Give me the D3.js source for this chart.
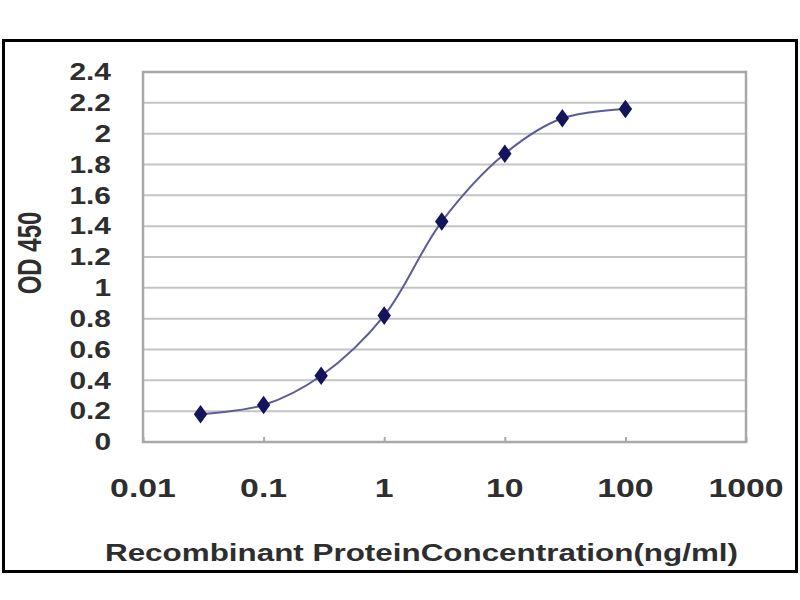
<!DOCTYPE html>
<html><head><meta charset="utf-8">
<script src="https://cdn.jsdelivr.net/npm/d3@7"></script>
<style>body{margin:0;background:#fff}svg{display:block}</style>
</head><body>
<script>
const concentrations = [0.03, 0.1, 0.3, 1, 3, 10, 30, 100];
const odValues = [0.18, 0.24, 0.43, 0.82, 1.43, 1.87, 2.1, 2.16];
const xTicks = [0.01, 0.1, 1, 10, 100, 1000];
const xTickLabels = ["0.01", "0.1", "1", "10", "100", "1000"];
const yTicks = [0, 0.2, 0.4, 0.6, 0.8, 1, 1.2, 1.4, 1.6, 1.8, 2, 2.2, 2.4];
const yTickLabels = ["0", "0.2", "0.4", "0.6", "0.8", "1", "1.2", "1.4", "1.6", "1.8", "2", "2.2", "2.4"];
const xTitle = "Recombinant ProteinConcentration(ng/ml)";
const yTitle = "OD 450";

const W = 800, H = 600;
const svg = d3.select("body").append("svg").attr("width", W).attr("height", H);
const L = 143, R = 746, T = 72, B = 442;
const x = d3.scaleLog().domain([0.01, 1000]).range([L, R]);
const y = d3.scaleLinear().domain([0, 2.4]).range([B, T]);
const font = "Liberation Sans, Arial, sans-serif";
const txtColor = "#2e2e2e";

// outer frame
svg.append("rect").attr("x", 3.5).attr("y", 40.5).attr("width", 793).attr("height", 531)
  .attr("fill", "#fff").attr("stroke", "#000").attr("stroke-width", 3);

// gridlines
svg.append("g").selectAll("line").data(yTicks.slice(1)).join("line")
  .attr("x1", L).attr("x2", R).attr("y1", d => y(d)).attr("y2", d => y(d))
  .attr("stroke", "#c4c4c4").attr("stroke-width", 2);

// plot border
svg.append("rect").attr("x", L).attr("y", T).attr("width", R - L).attr("height", B - T)
  .attr("fill", "none").attr("stroke", "#a8a8a8").attr("stroke-width", 2.5);

// x axis ticks (inside, short)
const xAxis = d3.axisBottom(x).tickValues(xTicks).tickSize(-5).tickFormat("");
const gx = svg.append("g").attr("transform", `translate(0,${B})`).call(xAxis);
gx.select(".domain").remove();
gx.selectAll(".tick line").attr("stroke", "#a8a8a8").attr("stroke-width", 2);

// x tick labels (horizontally stretched like the reference)
svg.append("g").selectAll("text").data(xTicks).join("text")
  .attr("transform", d => `translate(${x(d)},497) scale(1.3,1)`)
  .attr("text-anchor", "middle")
  .attr("font-family", font).attr("font-weight", "bold").attr("font-size", 26)
  .attr("fill", txtColor).text((d, i) => xTickLabels[i]);

// y tick labels
svg.append("g").selectAll("text").data(yTicks).join("text")
  .attr("transform", d => `translate(111,${y(d)}) scale(1.3,1)`)
  .attr("dy", "0.36em").attr("text-anchor", "end")
  .attr("font-family", font).attr("font-weight", "bold").attr("font-size", 23)
  .attr("fill", txtColor).text((d, i) => yTickLabels[i]);

// titles
svg.append("text").attr("x", 105).attr("y", 561)
  .attr("textLength", 633).attr("lengthAdjust", "spacingAndGlyphs")
  .attr("font-family", font).attr("font-weight", "bold").attr("font-size", 23)
  .attr("fill", txtColor).text(xTitle);
svg.append("text").attr("transform", "translate(41,253) scale(1.4,1) rotate(-90)")
  .attr("text-anchor", "middle")
  .attr("font-family", font).attr("font-weight", "bold").attr("font-size", 24)
  .attr("fill", txtColor).text(yTitle);

// line
const data = concentrations.map((c, i) => ({c, v: odValues[i]}));
const line = d3.line().x(d => x(d.c)).y(d => y(d.v)).curve(d3.curveCatmullRom.alpha(0.5));
svg.append("path").datum(data).attr("d", line).attr("fill", "none")
  .attr("stroke", "#5c5c96").attr("stroke-width", 2);

// markers
svg.append("g").selectAll("path").data(data).join("path")
  .attr("transform", d => `translate(${x(d.c)},${y(d.v)}) scale(1.25,1)`)
  .attr("d", d3.symbol(d3.symbolDiamond, 100))
  .attr("fill", "#14145a");
</script>
</body></html>
